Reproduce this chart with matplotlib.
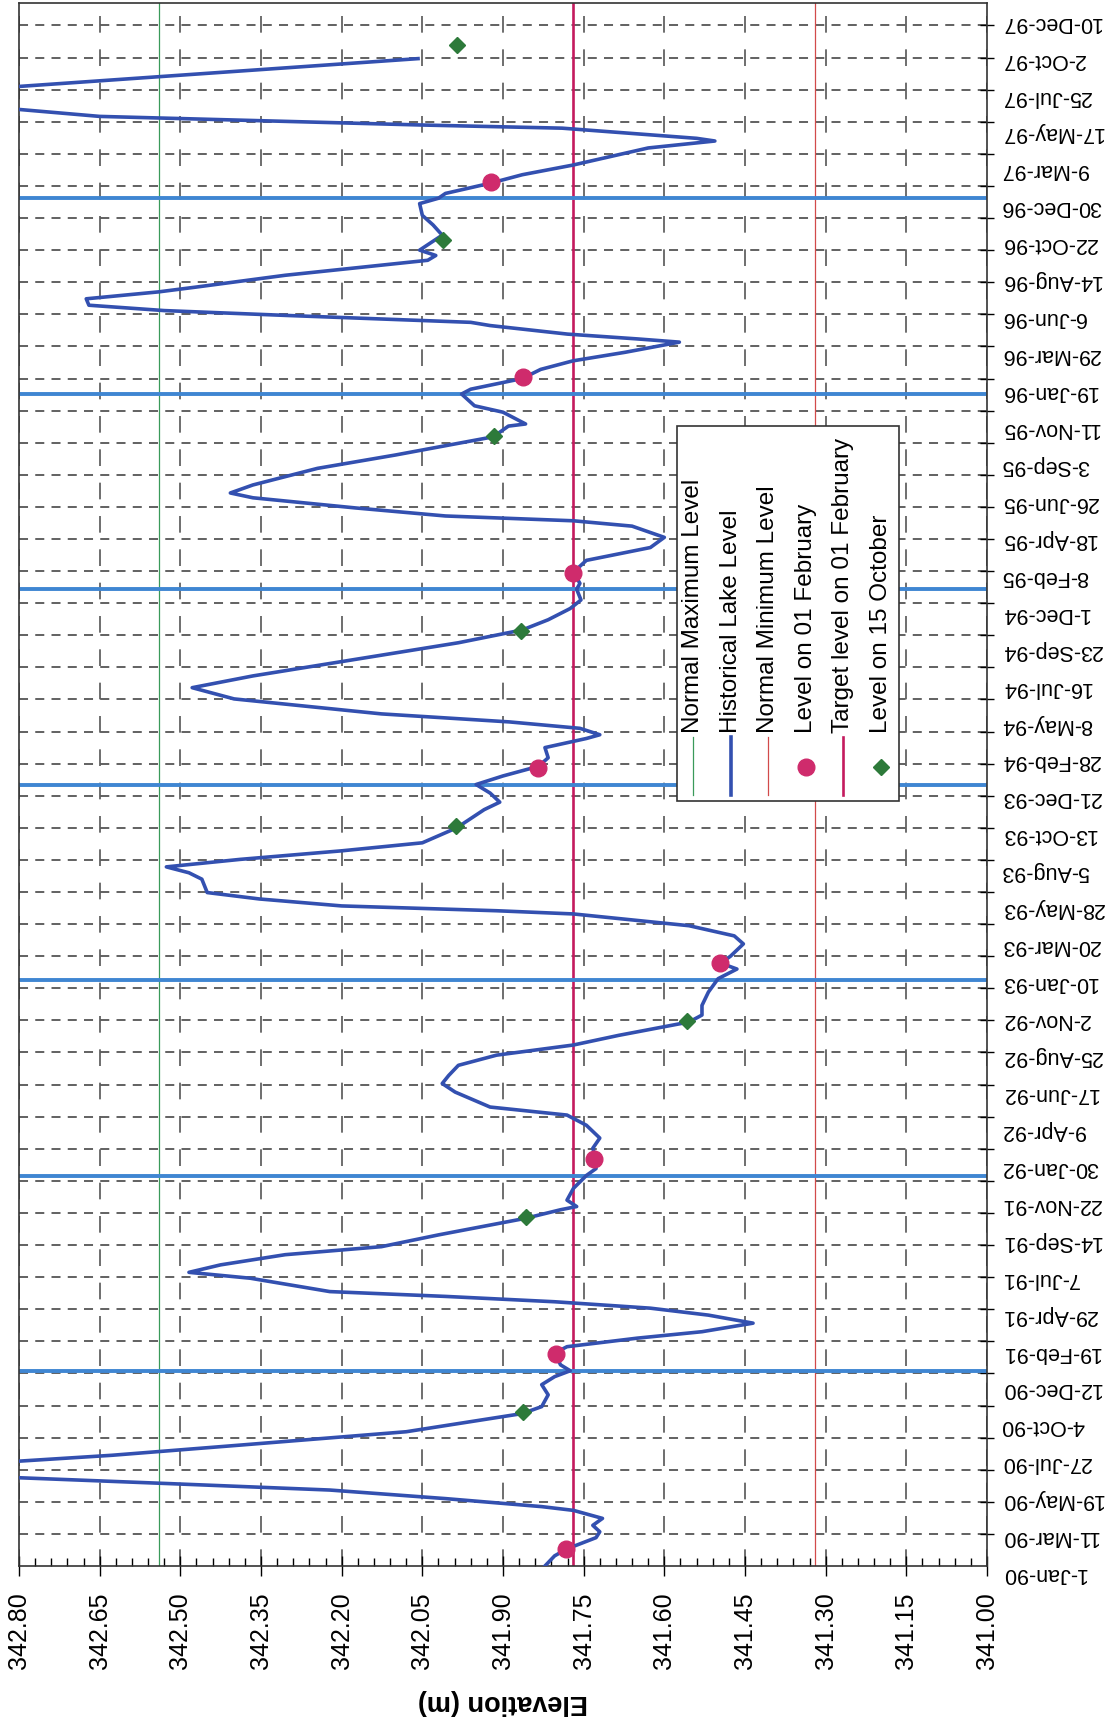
import numpy as np
import pandas as pd
import matplotlib
matplotlib.use('Agg')
import matplotlib.pyplot as plt
from matplotlib.lines import Line2D
from matplotlib.patches import Rectangle
from matplotlib import transforms

plt.rcParams['font.family'] = ['Liberation Sans', 'DejaVu Sans']

################
# Data
################

lake_dates = [
    '1990-01-01', '1990-01-20', '1990-02-02', '1990-02-23', '1990-03-06', '1990-03-18',
    '1990-03-31', '1990-04-15', '1990-04-22', '1990-05-07', '1990-05-23', '1990-06-04',
    '1990-06-15', '1990-07-01', '1990-07-16', '1990-07-27', '1990-08-15', '1990-09-09',
    '1990-10-13', '1990-10-26', '1990-11-17', '1990-12-06', '1990-12-21',
    '1991-01-01', '1991-01-12', '1991-02-03', '1991-02-15', '1991-03-03', '1991-03-15',
    '1991-03-31', '1991-04-15', '1991-04-28', '1991-05-10', '1991-05-20', '1991-05-29',
    '1991-06-23', '1991-07-04', '1991-07-18', '1991-08-06', '1991-08-21', '1991-09-12',
    '1991-10-13', '1991-10-29', '1991-11-04', '1991-11-16', '1991-12-08',
    '1992-01-01', '1992-01-14', '1992-01-31', '1992-02-21', '1992-03-11', '1992-04-04',
    '1992-04-23', '1992-05-08', '1992-06-05', '1992-06-21', '1992-07-06', '1992-07-25',
    '1992-08-13', '1992-09-01', '1992-09-19', '1992-10-14', '1992-10-27', '1992-11-14',
    '1992-12-09',
    '1993-01-03', '1993-01-21', '1993-02-01', '1993-02-14', '1993-03-09', '1993-03-24',
    '1993-04-12', '1993-05-04', '1993-05-10', '1993-05-19', '1993-06-01', '1993-06-13',
    '1993-07-08', '1993-07-20', '1993-07-31', '1993-08-14', '1993-08-30', '1993-09-14',
    '1993-10-12', '1993-11-15', '1993-11-29', '1993-12-16',
    '1994-01-01', '1994-01-17', '1994-02-04', '1994-02-20', '1994-03-11', '1994-03-28',
    '1994-04-04', '1994-04-16', '1994-04-28', '1994-05-13', '1994-06-10', '1994-07-01',
    '1994-07-23', '1994-08-23', '1994-09-23', '1994-10-17', '1994-11-05', '1994-11-26',
    '1994-12-12',
    '1995-01-01', '1995-01-12', '1995-02-02', '1995-02-24', '1995-03-20', '1995-04-08',
    '1995-04-29', '1995-05-09', '1995-05-18', '1995-06-02', '1995-06-21', '1995-06-30',
    '1995-07-15', '1995-08-15', '1995-09-09', '1995-10-13', '1995-11-02', '1995-11-06',
    '1995-11-28', '1995-12-10',
    '1996-01-01', '1996-01-10', '1996-01-30', '1996-02-16', '1996-03-03', '1996-03-19',
    '1996-04-07', '1996-04-13', '1996-04-22', '1996-05-08', '1996-05-14', '1996-05-27',
    '1996-06-05', '1996-06-15', '1996-06-27', '1996-07-10', '1996-07-19', '1996-08-10',
    '1996-09-07', '1996-09-16', '1996-09-26', '1996-10-24', '1996-11-12', '1996-11-30',
    '1996-12-22',
    '1997-01-01', '1997-01-10', '1997-01-29', '1997-02-14', '1997-03-04', '1997-04-05',
    '1997-04-18', '1997-04-23', '1997-05-12', '1997-05-18', '1997-06-03', '1997-06-16',
    '1997-07-08', '1997-07-29', '1997-09-19',
]
lake_levels = [
    341.822, 341.804, 341.781, 341.727, 341.720, 341.733,
    341.715, 341.769, 341.828, 342.007, 342.222, 342.520,
    342.800, 342.930, 342.800, 342.627, 342.389, 342.080,
    341.864, 341.828, 341.816, 341.828, 341.804,
    341.775, 341.793, 341.804, 341.781, 341.650, 341.530,
    341.435, 341.518, 341.626, 341.804, 342.007, 342.222,
    342.370, 342.484, 342.425, 342.305, 342.126, 342.020,
    341.858, 341.793, 341.763, 341.781, 341.769,
    341.745, 341.727, 341.727, 341.733, 341.720, 341.745,
    341.781, 341.924, 341.989, 342.013, 342.001, 341.983,
    341.912, 341.769, 341.685, 341.554, 341.530, 341.530,
    341.518,
    341.500, 341.465, 341.495, 341.477, 341.453, 341.470,
    341.554, 341.769, 341.912, 342.200, 342.353, 342.450,
    342.460, 342.484, 342.526, 342.389, 342.200, 342.050,
    341.986, 341.935, 341.906, 341.924,
    341.950, 341.900, 341.834, 341.816, 341.822, 341.745,
    341.720, 341.757, 341.888, 342.126, 342.400, 342.478,
    342.365, 342.174, 341.983, 341.864, 341.816, 341.775,
    341.755,
    341.763, 341.757, 341.769, 341.745, 341.626, 341.600,
    341.660, 341.769, 342.007, 342.174, 342.365, 342.407,
    342.365, 342.245, 342.100, 341.918, 341.890, 341.858,
    341.900, 341.953,
    341.977, 341.960, 341.864, 341.830, 341.770, 341.673,
    341.572, 341.650, 341.780, 341.924, 341.960, 342.305,
    342.530, 342.670, 342.675, 342.540, 342.470, 342.305,
    342.040, 342.025, 342.055, 342.013, 342.030, 342.050,
    342.055,
    342.020, 342.007, 341.924, 341.864, 341.770, 341.630,
    341.506, 341.540, 341.790, 342.055, 342.650, 342.800,
    342.930, 342.800, 342.058,
]

feb_dates = ['1990-02-01', '1991-02-01', '1992-02-01', '1993-02-01',
             '1994-02-01', '1995-02-01', '1996-02-01', '1997-02-01']
feb_levels = [341.782, 341.802, 341.730, 341.496, 341.835, 341.770, 341.863, 341.922]

oct_dates = ['1990-10-15', '1991-10-15', '1992-10-15', '1993-10-15',
             '1994-10-15', '1995-10-15', '1996-10-15', '1997-10-15']
oct_levels = [341.862, 341.858, 341.557, 341.987, 341.866, 341.917, 342.011, 341.985]

normal_max = 342.54
normal_min = 341.32
target_feb = 341.77

year_lines = ['1991-01-01', '1992-01-01', '1993-01-01', '1994-01-01',
              '1995-01-01', '1996-01-01', '1997-01-01']

date_labels = ['1-Jan-90', '11-Mar-90', '19-May-90', '27-Jul-90', '4-Oct-90', '12-Dec-90',
               '19-Feb-91', '29-Apr-91', '7-Jul-91', '14-Sep-91', '22-Nov-91', '30-Jan-92',
               '9-Apr-92', '17-Jun-92', '25-Aug-92', '2-Nov-92', '10-Jan-93', '20-Mar-93',
               '28-May-93', '5-Aug-93', '13-Oct-93', '21-Dec-93', '28-Feb-94', '8-May-94',
               '16-Jul-94', '23-Sep-94', '1-Dec-94', '8-Feb-95', '18-Apr-95', '26-Jun-95',
               '3-Sep-95', '11-Nov-95', '19-Jan-96', '29-Mar-96', '6-Jun-96', '14-Aug-96',
               '22-Oct-96', '30-Dec-96', '9-Mar-97', '17-May-97', '25-Jul-97', '2-Oct-97',
               '10-Dec-97']

legend_names = ['Normal Maximum Level', 'Historical Lake Level', 'Normal Minimum Level',
                'Level on 01 February', 'Target level on 01 February', 'Level on 15 October']

######
# MAIN
######

W, H = 1107, 1721
fig = plt.figure(figsize=(W / 100, H / 100), dpi=100)
ax = fig.add_axes([19 / W, (H - 1566) / H, (987 - 19) / W, (1566 - 3) / H])

C_LAKE = '#3350b0'
C_YEAR = '#3f86d2'
C_TARGET = '#c41a5e'
C_MIN = '#d24a4a'
C_MAX = '#3a9a5a'
C_DOT = '#cf2b6c'
C_DIA = '#2d7a3a'
C_GRID = '#555555'

t_lake = pd.to_datetime(lake_dates)
t_feb = pd.to_datetime(feb_dates)
t_oct = pd.to_datetime(oct_dates)
t_lab = pd.to_datetime(date_labels, format='%d-%b-%y')

# reference lines
ax.axvline(normal_max, color=C_MAX, lw=0.9, zorder=2)
ax.axvline(normal_min, color=C_MIN, lw=0.9, zorder=2)
ax.axvline(target_feb, color=C_TARGET, lw=1.9, zorder=2)
for d in pd.to_datetime(year_lines):
    ax.axhline(d, color=C_YEAR, lw=2.8, zorder=2)

# lake level and the two sets of markers
ax.plot(lake_levels, t_lake, color=C_LAKE, lw=2.6, zorder=3)
ax.plot(feb_levels, t_feb, 'o', color=C_DOT, ms=12, mec=C_DOT, zorder=4)
ax.plot(oct_levels, t_oct, 'D', color=C_DIA, ms=8.5, mec=C_DIA, zorder=4)

# axes
ax.set_xlim(342.80, 341.00)
ax.set_ylim(pd.Timestamp('1990-01-01'), pd.Timestamp('1998-01-01'))

ax.set_xticks(np.round(np.arange(341.00, 342.801, 0.15), 2))
ax.set_xticks(np.arange(341.00, 342.80, 0.03), minor=True)
ax.xaxis.set_major_formatter(matplotlib.ticker.FormatStrFormatter('%.2f'))
ax.tick_params(axis='x', which='major', direction='inout', length=14, width=1,
               labelsize=18, pad=12, labelrotation=90)
ax.tick_params(axis='x', which='minor', direction='in', length=6, width=1)
ax.grid(axis='x', which='major', color=C_GRID, lw=1.2, linestyle=(0, (10, 10)), zorder=1)

ax.yaxis.tick_right()
ax.set_yticks(t_lab)
ax.set_yticklabels(date_labels)
grid_days = pd.date_range('1990-03-02', '1997-12-31', freq='60D')
ax.set_yticks(grid_days, minor=True)
ax.tick_params(axis='y', which='major', length=0, labelsize=15.5, pad=10, labelrotation=180)
ax.tick_params(axis='y', which='minor', direction='inout', length=10, width=1)
ax.grid(axis='y', which='minor', color=C_GRID, lw=1.3, linestyle=(0, (5, 4)), zorder=1)
offset = transforms.ScaledTranslation(0, -5 / 100, fig.dpi_scale_trans)
for lab in ax.get_yticklabels():
    lab.set_horizontalalignment('left')
    lab.set_transform(lab.get_transform() + offset)

for sp in ax.spines.values():
    sp.set_color('#333333')
    sp.set_linewidth(1.2)

ax.set_xlabel('Elevation (m)', fontsize=19.5, fontweight='bold', rotation=180, labelpad=14)

# legend drawn by hand (rotated chart)
def fx(x):
    return x / W

def fy(y):
    return 1 - y / H

fig.add_artist(Rectangle((fx(677), fy(801)), fx(899) - fx(677), fy(426) - fy(801),
                         transform=fig.transFigure, facecolor='white',
                         edgecolor='#333333', lw=1.2, zorder=5))
cols = [693, 731, 768, 806, 843, 881]
styles = [('line', C_MAX, 0.9), ('line', C_LAKE, 2.6), ('line', C_MIN, 0.9),
          ('dot', C_DOT, 12), ('line', C_TARGET, 1.9), ('dia', C_DIA, 8.5)]
for cx, name, (kind, col, size) in zip(cols, legend_names, styles):
    if kind == 'line':
        fig.add_artist(Line2D([fx(cx), fx(cx)], [fy(737), fy(795)], transform=fig.transFigure,
                              color=col, lw=size, zorder=6))
    else:
        fig.add_artist(Line2D([fx(cx)], [fy(767)], transform=fig.transFigure,
                              marker='o' if kind == 'dot' else 'D', ms=size, color=col,
                              linestyle='none', zorder=6))
    fig.text(fx(cx), fy(733), name, rotation=90, ha='center', va='bottom',
             fontsize=17.5, zorder=7)

fig.savefig('out.png', dpi=100)
